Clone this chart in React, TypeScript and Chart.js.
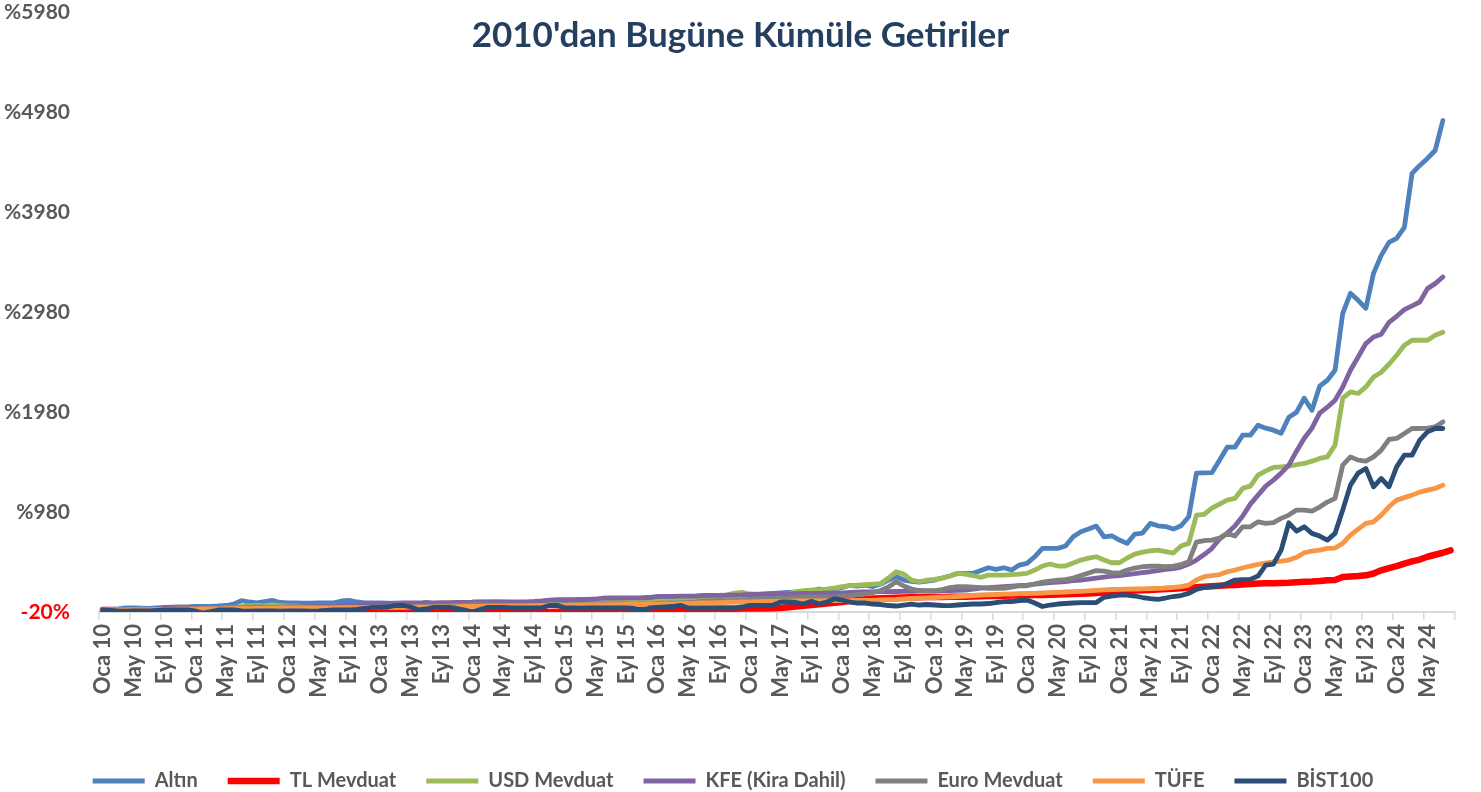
import React, { useEffect, useRef } from 'react';
import { Chart, registerables } from 'chart.js';

Chart.register(...registerables);

const FONT = 'Lato, "Open Sans", "DejaVu Sans", sans-serif';
const TITLE = "2010'dan Bugüne Kümüle Getiriler";

const MONTHS = ['Oca', 'Şub', 'Mar', 'Nis', 'May', 'Haz', 'Tem', 'Ağu', 'Eyl', 'Eki', 'Kas', 'Ara'];
const START_YEAR = 2010;
const MONTH_COUNT = 176; // Oca 10 .. Ağu 24
const CATEGORIES = Array.from({ length: MONTH_COUNT }, (_, i) =>
  `${MONTHS[i % 12]} ${String((START_YEAR + Math.floor(i / 12)) % 100).padStart(2, '0')}`
);
const LABEL_EVERY = 4;
const Y_TICKS = [-20, 980, 1980, 2980, 3980, 4980, 5980];

const ALTIN = [
  0, 5, 10, 20, 20, 18, 15, 22, 25, 28, 30, 32,
  35, 37, 37, 40, 45, 60, 93, 80, 72, 85, 97, 75,
  70, 70, 68, 68, 70, 70, 72, 90, 97, 80, 72, 72,
  70, 68, 60, 53, 55, 60, 77, 65, 58, 60, 62, 70,
  80, 80, 80, 80, 78, 75, 72, 70, 72, 75, 80, 85,
  90, 95, 98, 95, 100, 105, 110, 110, 108, 112, 118, 125,
  130, 128, 125, 120, 118, 125, 135, 140, 140, 145, 150, 148,
  150, 155, 160, 165, 170, 175, 180, 185, 190, 210, 205, 215,
  225, 245, 240, 250, 235, 260, 300, 335, 300, 287, 280, 290,
  300, 320, 340, 367, 367, 367, 395, 423, 407, 423, 400, 450,
  467, 533, 617, 617, 617, 640, 733, 783, 810, 840, 733, 743,
  700, 667, 760, 770, 867, 843, 835, 810, 843, 933, 1370, 1373,
  1375, 1500, 1630, 1630, 1750, 1750, 1850, 1820, 1800, 1770, 1930, 1980,
  2120, 2000, 2240, 2300, 2400, 2970, 3170, 3100, 3020, 3370, 3550, 3680,
  3720, 3830, 4370, 4450, 4520, 4600, 4900,
];

const TL_MEVDUAT = [
  0, 0, -2, -3, -5, -5, -3, -2, 0, 2, 5, 5,
  3, 2, 0, -2, -3, -5, -5, -8, -10, -10, -12, -12,
  -10, -10, -12, -15, -15, -18, -20, -20, -22, -20, -18, -20,
  -20, -18, -18, -20, -20, -18, -18, -20, -20, -22, -22, -20,
  -20, -20, -22, -22, -22, -23, -23, -23, -23, -22, -20, -18,
  -15, -12, -10, -8, -5, -5, -3, -2, 0, 0, 2, 2,
  3, 5, 5, 7, 8, 8, 10, 10, 12, 12, 13, 14,
  15, 15, 16, 17, 20, 28, 35, 42, 50, 57, 65, 72,
  80, 90, 100, 108, 115, 118, 120, 122, 125, 127, 128, 130,
  130, 131, 132, 133, 133, 135, 137, 139, 141, 143, 145, 146,
  148, 150, 151, 153, 155, 158, 160, 163, 166, 170, 175, 180,
  185, 190, 195, 198, 200, 205, 210, 213, 218, 222, 227, 233,
  238, 243, 247, 250, 255, 260, 265, 267, 268, 270, 272, 278,
  283, 285, 290, 297, 300, 330, 335, 340, 347, 365, 397, 420,
  440, 465, 487, 505, 533, 553, 573, 597,
];

const USD_MEVDUAT = [
  0, 2, 5, 3, 5, 8, 5, 3, 5, 8, 10, 12,
  12, 15, 18, 15, 20, 25, 35, 40, 45, 42, 50, 45,
  42, 38, 35, 35, 38, 40, 42, 40, 40, 42, 45, 45,
  43, 42, 45, 48, 50, 52, 55, 60, 58, 60, 62, 65,
  70, 68, 65, 65, 62, 63, 65, 67, 68, 70, 72, 75,
  80, 82, 83, 80, 82, 85, 88, 85, 82, 80, 82, 83,
  85, 88, 90, 95, 100, 110, 120, 125, 135, 150, 170, 177,
  160, 158, 155, 156, 158, 162, 185, 195, 200, 203, 210, 220,
  235, 245, 250, 255, 260, 265, 320, 383, 360, 300, 283, 300,
  307, 320, 340, 367, 360, 345, 327, 350, 350, 350, 355, 360,
  367, 400, 440, 460, 440, 440, 470, 500, 520, 533, 500, 473,
  473, 520, 560, 580, 593, 600, 585, 570, 640, 667, 950, 957,
  1020, 1060, 1100, 1117, 1217, 1240, 1350, 1393, 1427, 1433, 1440, 1455,
  1467, 1490, 1517, 1533, 1650, 2120, 2183, 2167, 2233, 2333, 2380, 2460,
  2550, 2650, 2700, 2700, 2700, 2750, 2780,
];

const KFE = [
  0, 1, 2, 3, 4, 5, 6, 8, 9, 10, 11, 12,
  13, 14, 16, 17, 18, 20, 21, 22, 24, 25, 26, 28,
  30, 32, 34, 36, 38, 40, 42, 45, 48, 52, 55, 58,
  62, 65, 68, 70, 70, 71, 72, 72, 73, 74, 75, 76,
  77, 78, 79, 80, 80, 80, 81, 82, 85, 90, 98, 103,
  103, 104, 105, 105, 110, 118, 120, 120, 121, 122, 122, 125,
  135, 137, 137, 138, 138, 140, 145, 147, 147, 148, 148, 150,
  155, 157, 158, 160, 160, 161, 163, 165, 166, 167, 168, 170,
  172, 175, 178, 180, 182, 183, 184, 185, 186, 187, 188, 189,
  190, 193, 195, 197, 200, 210, 220, 225, 230, 235, 240, 245,
  250, 260, 267, 273, 280, 285, 293, 300, 310, 320, 330, 340,
  345, 355, 365, 375, 383, 395, 407, 415, 430, 460, 500, 555,
  615, 710, 770, 840, 940, 1060, 1150, 1240, 1300, 1370, 1450, 1590,
  1720, 1820, 1970, 2030, 2100, 2233, 2400, 2533, 2667, 2733, 2760, 2880,
  2940, 3007, 3045, 3083, 3217, 3267, 3333,
];

const EURO_MEVDUAT = [
  0, -3, -6, -10, -12, -8, -5, -3, -2, 0, 2, 0,
  2, 5, 8, 10, 12, 15, 20, 25, 30, 28, 25, 22,
  20, 22, 25, 22, 20, 18, 20, 22, 25, 25, 27, 28,
  30, 32, 30, 28, 30, 35, 38, 40, 42, 45, 48, 50,
  58, 55, 52, 50, 48, 45, 42, 40, 42, 45, 48, 52,
  55, 58, 55, 52, 55, 58, 60, 62, 60, 58, 60, 62,
  65, 68, 70, 72, 75, 80, 88, 92, 95, 93, 95, 98,
  105, 110, 113, 115, 113, 118, 125, 128, 130, 130, 128, 132,
  138, 145, 153, 160, 175, 195, 230, 283, 240, 210, 195, 193,
  193, 205, 225, 233, 233, 230, 225, 217, 217, 217, 230, 243,
  243, 260, 280, 290, 300, 305, 320, 345, 370, 395, 390, 375,
  370, 400, 420, 433, 440, 438, 433, 440, 455, 483, 680, 695,
  700, 720, 767, 740, 833, 833, 883, 867, 875, 917, 950, 1000,
  1000, 990, 1030, 1080, 1117, 1450, 1533, 1500, 1490, 1533, 1600, 1707,
  1717, 1767, 1817, 1817, 1820, 1833, 1883,
];

const TUFE = [
  0, 1, 2, 2, 3, 3, 4, 5, 6, 7, 8, 8,
  9, 10, 11, 12, 13, 14, 15, 16, 17, 18, 19, 20,
  20, 20, 21, 21, 22, 22, 22, 23, 23, 24, 24, 25,
  26, 26, 27, 27, 28, 28, 29, 30, 31, 32, 33, 35,
  36, 37, 38, 38, 39, 40, 41, 42, 43, 44, 45, 46,
  47, 48, 49, 50, 51, 52, 53, 54, 55, 56, 57, 58,
  59, 60, 62, 64, 66, 68, 70, 72, 74, 76, 78, 80,
  82, 84, 86, 87, 88, 89, 90, 90, 91, 92, 93, 93,
  94, 94, 95, 95, 95, 100, 103, 105, 110, 115, 118, 122,
  125, 128, 132, 135, 140, 145, 150, 152, 155, 158, 160, 163,
  165, 167, 170, 173, 177, 180, 183, 187, 192, 197, 202, 205,
  207, 208, 210, 212, 215, 217, 220, 227, 235, 250, 300, 333,
  345, 355, 383, 400, 420, 440, 457, 470, 483, 490, 500, 527,
  573, 590, 600, 617, 620, 667, 750, 810, 867, 883, 950, 1033,
  1100, 1125, 1150, 1180, 1200, 1217, 1250,
];

const BIST100 = [
  0, -5, -10, -12, -10, -8, -10, -5, 0, 0, 2, 0,
  -10, -30, -15, 0, 2, 0, -10, -12, -10, -8, -10, -12,
  -10, -8, -10, -12, -10, -5, 0, 2, 0, 5, 15, 27,
  27, 30, 47, 45, 30, 0, 10, 27, 27, 25, 15, 0,
  -20, 5, 27, 27, 25, 22, 20, 20, 20, 22, 45, 47,
  20, 20, 18, 20, 20, 20, 22, 20, 20, 15, -7, 20,
  27, 30, 35, 47, 20, 20, 20, 20, 20, 20, 20, 30,
  47, 47, 45, 47, 80, 80, 75, 60, 87, 60, 80, 113,
  100, 80, 70, 70, 60, 55, 45, 40, 50, 60, 50, 55,
  50, 45, 43, 50, 55, 60, 60, 65, 75, 83, 85, 95,
  100, 70, 35, 50, 60, 65, 70, 73, 73, 75, 127, 140,
  150, 150, 140, 125, 115, 107, 120, 135, 145, 167, 207, 225,
  233, 240, 265, 300, 305, 307, 340, 450, 460, 600, 873, 790,
  833, 767, 740, 700, 767, 1000, 1250, 1370, 1417, 1233, 1317, 1233,
  1433, 1550, 1550, 1700, 1783, 1817, 1817,
];

const SERIES = [
  { label: 'Altın', data: ALTIN, color: '#4F81BD', width: 4.8 },
  { label: 'TL Mevduat', data: TL_MEVDUAT, color: '#FF0000', width: 6.5 },
  { label: 'USD Mevduat', data: USD_MEVDUAT, color: '#9BBB59', width: 4.8 },
  { label: 'KFE (Kira Dahil)', data: KFE, color: '#8064A2', width: 4.8 },
  { label: 'Euro Mevduat', data: EURO_MEVDUAT, color: '#808080', width: 4.8 },
  { label: 'TÜFE', data: TUFE, color: '#F79646', width: 4.8 },
  { label: 'BİST100', data: BIST100, color: '#2C4D75', width: 4.8 },
];

const titlePlugin = {
  id: 'overlayTitle',
  afterDraw(chart: any) {
    const ctx = chart.ctx;
    ctx.save();
    ctx.font = `bold 35px ${FONT}`;
    ctx.fillStyle = '#243F60';
    ctx.textAlign = 'center';
    ctx.textBaseline = 'middle';
    ctx.fillText(TITLE, chart.width / 2, 36);
    ctx.restore();
  },
};

const LEGEND_HEIGHT = 51;
const legendHeightPlugin = {
  id: 'legendHeight',
  beforeInit(chart: any) {
    const legend = chart.legend;
    if (legend) {
      const fit = legend.fit.bind(legend);
      legend.fit = function () {
        fit();
        this.height = LEGEND_HEIGHT;
      };
    }
  },
};

export default function App() {
  const canvasRef = useRef<HTMLCanvasElement | null>(null);

  useEffect(() => {
    const canvas = canvasRef.current;
    if (!canvas) return;
    const n = SERIES.length;
    const chart = new Chart(canvas, {
      type: 'line',
      data: {
        labels: CATEGORIES,
        datasets: SERIES.map((s, i) => ({
          label: s.label,
          data: s.data,
          borderColor: s.color,
          backgroundColor: s.color,
          borderWidth: s.width,
          borderCapStyle: 'round',
          borderJoinStyle: 'round',
          pointRadius: 0,
          pointHoverRadius: 0,
          tension: 0,
          fill: false,
          order: n - i,
        })),
      },
      options: {
        animation: false,
        responsive: false,
        devicePixelRatio: 1,
        events: [],
        layout: { padding: { top: 12, right: 15, left: 0, bottom: 0 } },
        plugins: {
          title: { display: false },
          tooltip: { enabled: false },
          legend: {
            position: 'bottom',
            labels: {
              usePointStyle: true,
              pointStyle: 'line',
              pointStyleWidth: 52,
              color: '#595959',
              font: { family: FONT, size: 20, weight: 'bold' },
              padding: 30,
              sort: (a: any, b: any) => a.datasetIndex - b.datasetIndex,
            },
          },
        },
        scales: {
          x: {
            type: 'category',
            offset: true,
            afterFit: (scale: any) => {
              scale.height = 129;
            },
            grid: {
              display: true,
              drawOnChartArea: false,
              drawTicks: true,
              tickLength: 8,
              offset: true,
              lineWidth: 1.5,
              color: (ctx: any) =>
                ctx.index === undefined || ctx.index % LABEL_EVERY === 0 ? '#D9D9D9' : 'rgba(0,0,0,0)',
            },
            border: { display: true, color: '#D9D9D9', width: 2 },
            ticks: {
              autoSkip: false,
              minRotation: 90,
              maxRotation: 90,
              padding: 4,
              color: '#595959',
              font: { family: FONT, size: 22, weight: 'bold' },
              callback: (_v: any, i: number) => (i % LABEL_EVERY === 0 ? CATEGORIES[i] : ''),
            },
          },
          y: {
            type: 'linear',
            min: Y_TICKS[0],
            max: Y_TICKS[Y_TICKS.length - 1],
            afterBuildTicks: (scale: any) => {
              scale.ticks = Y_TICKS.map((v) => ({ value: v }));
            },
            afterFit: (scale: any) => {
              scale.width = 99;
            },
            grid: { display: false, drawTicks: true, tickLength: 29 },
            border: { display: false },
            ticks: {
              padding: 0,
              color: (ctx: any) => (ctx.tick && ctx.tick.value === Y_TICKS[0] ? '#FF0000' : '#595959'),
              font: { family: FONT, size: 21, weight: 'bold' },
              callback: (v: any) => (Number(v) < 0 ? `${v}%` : `%${v}`),
            },
          },
        },
      },
      plugins: [titlePlugin, legendHeightPlugin],
    } as any);
    return () => chart.destroy();
  }, []);

  return (
    <div style={{ position: 'fixed', left: 0, top: 0, width: 1481, height: 792, background: '#fff' }}>
      <canvas ref={canvasRef} width={1481} height={792} style={{ display: 'block' }} />
    </div>
  );
}
